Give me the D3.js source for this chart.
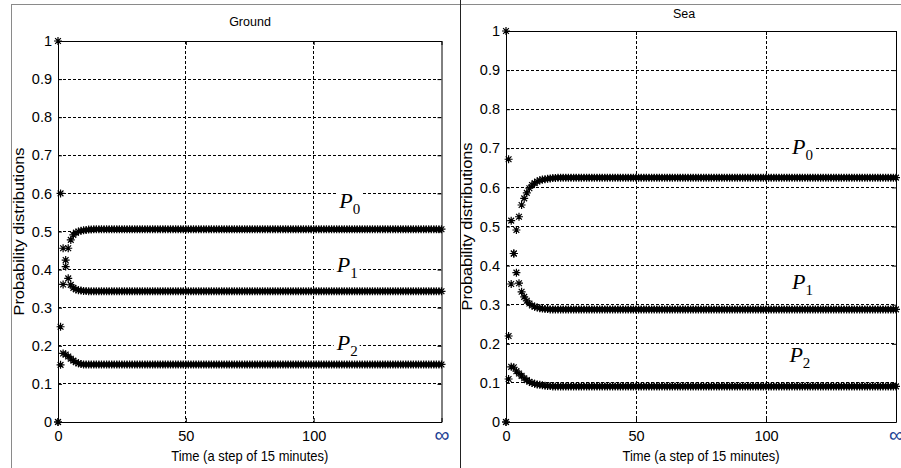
<!DOCTYPE html>
<html>
<head>
<meta charset="utf-8">
<script src="https://d3js.org/d3.v7.min.js"></script>
<style>
  body { margin: 0; background: #fff; overflow: hidden; }
  svg text { font-family: "Liberation Sans", Arial, sans-serif; }
  .grid line { stroke: #000; stroke-dasharray: 3,2; shape-rendering: crispEdges; }
  .plabel { font-family: "Liberation Serif", serif; font-style: italic; }
</style>
</head>
<body>
<svg id="chart" width="901" height="468"></svg>
<script>
// tick values / labels
var yTicks = [0, 0.1, 0.2, 0.3, 0.4, 0.5, 0.6, 0.7, 0.8, 0.9, 1];
var yTickLabels = ["0", "0.1", "0.2", "0.3", "0.4", "0.5", "0.6", "0.7", "0.8", "0.9", "1"];
var xTicks = [0, 50, 100, 150];
var xTickLabels = ["0", "50", "100", "\u221e"];
var xGrid = [50, 100];
var seriesNames = ["P0", "P1", "P2"];

// Ground: one value per 15 minute step, t = 0..150
var groundP0 = [1, 0.6, 0.456, 0.408, 0.456, 0.478, 0.491, 0.497, 0.5, 0.502, 0.503, 0.504, 0.505, 0.505, 0.506,
  0.506, 0.506, 0.506, 0.506, 0.506, 0.506, 0.506, 0.506, 0.506, 0.506, 0.506, 0.506, 0.506, 0.506, 0.506, 0.506, 0.506,
  0.506, 0.506, 0.506, 0.506, 0.506, 0.506, 0.506, 0.506, 0.506, 0.506, 0.506, 0.506, 0.506, 0.506, 0.506, 0.506, 0.506,
  0.506, 0.506, 0.506, 0.506, 0.506, 0.506, 0.506, 0.506, 0.506, 0.506, 0.506, 0.506, 0.506, 0.506, 0.506, 0.506, 0.506,
  0.506, 0.506, 0.506, 0.506, 0.506, 0.506, 0.506, 0.506, 0.506, 0.506, 0.506, 0.506, 0.506, 0.506, 0.506, 0.506, 0.506,
  0.506, 0.506, 0.506, 0.506, 0.506, 0.506, 0.506, 0.506, 0.506, 0.506, 0.506, 0.506, 0.506, 0.506, 0.506, 0.506, 0.506,
  0.506, 0.506, 0.506, 0.506, 0.506, 0.506, 0.506, 0.506, 0.506, 0.506, 0.506, 0.506, 0.506, 0.506, 0.506, 0.506, 0.506,
  0.506, 0.506, 0.506, 0.506, 0.506, 0.506, 0.506, 0.506, 0.506, 0.506, 0.506, 0.506, 0.506, 0.506, 0.506, 0.506, 0.506,
  0.506, 0.506, 0.506, 0.506, 0.506, 0.506, 0.506, 0.506, 0.506, 0.506, 0.506, 0.506, 0.506, 0.506, 0.506, 0.506, 0.506];
var groundP1 = [0, 0.25, 0.361, 0.425, 0.377, 0.36, 0.352, 0.348, 0.346, 0.345, 0.344, 0.344, 0.343, 0.343, 0.343,
  0.343, 0.343, 0.343, 0.343, 0.343, 0.343, 0.343, 0.343, 0.343, 0.343, 0.343, 0.343, 0.343, 0.343, 0.343, 0.343, 0.343,
  0.343, 0.343, 0.343, 0.343, 0.343, 0.343, 0.343, 0.343, 0.343, 0.343, 0.343, 0.343, 0.343, 0.343, 0.343, 0.343, 0.343,
  0.343, 0.343, 0.343, 0.343, 0.343, 0.343, 0.343, 0.343, 0.343, 0.343, 0.343, 0.343, 0.343, 0.343, 0.343, 0.343, 0.343,
  0.343, 0.343, 0.343, 0.343, 0.343, 0.343, 0.343, 0.343, 0.343, 0.343, 0.343, 0.343, 0.343, 0.343, 0.343, 0.343, 0.343,
  0.343, 0.343, 0.343, 0.343, 0.343, 0.343, 0.343, 0.343, 0.343, 0.343, 0.343, 0.343, 0.343, 0.343, 0.343, 0.343, 0.343,
  0.343, 0.343, 0.343, 0.343, 0.343, 0.343, 0.343, 0.343, 0.343, 0.343, 0.343, 0.343, 0.343, 0.343, 0.343, 0.343, 0.343,
  0.343, 0.343, 0.343, 0.343, 0.343, 0.343, 0.343, 0.343, 0.343, 0.343, 0.343, 0.343, 0.343, 0.343, 0.343, 0.343, 0.343,
  0.343, 0.343, 0.343, 0.343, 0.343, 0.343, 0.343, 0.343, 0.343, 0.343, 0.343, 0.343, 0.343, 0.343, 0.343, 0.343, 0.343];
var groundP2 = [0, 0.15, 0.18, 0.177, 0.172, 0.166, 0.161, 0.157, 0.154, 0.152, 0.151, 0.151, 0.151, 0.151, 0.151,
  0.151, 0.151, 0.151, 0.151, 0.151, 0.151, 0.151, 0.151, 0.151, 0.151, 0.151, 0.151, 0.151, 0.151, 0.151, 0.151, 0.151,
  0.151, 0.151, 0.151, 0.151, 0.151, 0.151, 0.151, 0.151, 0.151, 0.151, 0.151, 0.151, 0.151, 0.151, 0.151, 0.151, 0.151,
  0.151, 0.151, 0.151, 0.151, 0.151, 0.151, 0.151, 0.151, 0.151, 0.151, 0.151, 0.151, 0.151, 0.151, 0.151, 0.151, 0.151,
  0.151, 0.151, 0.151, 0.151, 0.151, 0.151, 0.151, 0.151, 0.151, 0.151, 0.151, 0.151, 0.151, 0.151, 0.151, 0.151, 0.151,
  0.151, 0.151, 0.151, 0.151, 0.151, 0.151, 0.151, 0.151, 0.151, 0.151, 0.151, 0.151, 0.151, 0.151, 0.151, 0.151, 0.151,
  0.151, 0.151, 0.151, 0.151, 0.151, 0.151, 0.151, 0.151, 0.151, 0.151, 0.151, 0.151, 0.151, 0.151, 0.151, 0.151, 0.151,
  0.151, 0.151, 0.151, 0.151, 0.151, 0.151, 0.151, 0.151, 0.151, 0.151, 0.151, 0.151, 0.151, 0.151, 0.151, 0.151, 0.151,
  0.151, 0.151, 0.151, 0.151, 0.151, 0.151, 0.151, 0.151, 0.151, 0.151, 0.151, 0.151, 0.151, 0.151, 0.151, 0.151, 0.151];

// Sea
var seaP0 = [1, 0.672, 0.515, 0.431, 0.491, 0.525, 0.555, 0.572, 0.586, 0.598, 0.606, 0.611, 0.615, 0.618, 0.62,
  0.621, 0.622, 0.623, 0.624, 0.624, 0.625, 0.625, 0.625, 0.625, 0.625,
  0.625, 0.625, 0.625, 0.625, 0.625, 0.625, 0.625, 0.625, 0.625, 0.625, 0.625, 0.625, 0.625, 0.625,
  0.625, 0.625, 0.625, 0.625, 0.625, 0.625, 0.625, 0.625, 0.625, 0.625, 0.625, 0.625, 0.625, 0.625,
  0.625, 0.625, 0.625, 0.625, 0.625, 0.625, 0.625, 0.625, 0.625, 0.625, 0.625, 0.625, 0.625, 0.625,
  0.625, 0.625, 0.625, 0.625, 0.625, 0.625, 0.625, 0.625, 0.625, 0.625, 0.625, 0.625, 0.625, 0.625,
  0.625, 0.625, 0.625, 0.625, 0.625, 0.625, 0.625, 0.625, 0.625, 0.625, 0.625, 0.625, 0.625, 0.625,
  0.625, 0.625, 0.625, 0.625, 0.625, 0.625, 0.625, 0.625, 0.625, 0.625, 0.625, 0.625, 0.625, 0.625,
  0.625, 0.625, 0.625, 0.625, 0.625, 0.625, 0.625, 0.625, 0.625, 0.625, 0.625, 0.625, 0.625, 0.625,
  0.625, 0.625, 0.625, 0.625, 0.625, 0.625, 0.625, 0.625, 0.625, 0.625, 0.625, 0.625, 0.625, 0.625,
  0.625, 0.625, 0.625, 0.625, 0.625, 0.625, 0.625, 0.625, 0.625, 0.625, 0.625, 0.625, 0.625, 0.625];
var seaP1 = [0, 0.22, 0.353, 0.431, 0.382, 0.355, 0.333, 0.32, 0.31, 0.303, 0.298, 0.295, 0.293, 0.291, 0.29,
  0.289, 0.289, 0.288, 0.288, 0.288, 0.288, 0.288, 0.288, 0.288, 0.288,
  0.288, 0.288, 0.288, 0.288, 0.288, 0.288, 0.288, 0.288, 0.288, 0.288, 0.288, 0.288, 0.288, 0.288,
  0.288, 0.288, 0.288, 0.288, 0.288, 0.288, 0.288, 0.288, 0.288, 0.288, 0.288, 0.288, 0.288, 0.288,
  0.288, 0.288, 0.288, 0.288, 0.288, 0.288, 0.288, 0.288, 0.288, 0.288, 0.288, 0.288, 0.288, 0.288,
  0.288, 0.288, 0.288, 0.288, 0.288, 0.288, 0.288, 0.288, 0.288, 0.288, 0.288, 0.288, 0.288, 0.288,
  0.288, 0.288, 0.288, 0.288, 0.288, 0.288, 0.288, 0.288, 0.288, 0.288, 0.288, 0.288, 0.288, 0.288,
  0.288, 0.288, 0.288, 0.288, 0.288, 0.288, 0.288, 0.288, 0.288, 0.288, 0.288, 0.288, 0.288, 0.288,
  0.288, 0.288, 0.288, 0.288, 0.288, 0.288, 0.288, 0.288, 0.288, 0.288, 0.288, 0.288, 0.288, 0.288,
  0.288, 0.288, 0.288, 0.288, 0.288, 0.288, 0.288, 0.288, 0.288, 0.288, 0.288, 0.288, 0.288, 0.288,
  0.288, 0.288, 0.288, 0.288, 0.288, 0.288, 0.288, 0.288, 0.288, 0.288, 0.288, 0.288, 0.288, 0.288];
var seaP2 = [0, 0.11, 0.141, 0.14, 0.13, 0.124, 0.118, 0.112, 0.107, 0.103, 0.1, 0.098, 0.096, 0.095, 0.094,
  0.093, 0.092, 0.092, 0.091, 0.091, 0.091, 0.091, 0.091, 0.091, 0.091,
  0.091, 0.091, 0.091, 0.091, 0.091, 0.091, 0.091, 0.091, 0.091, 0.091, 0.091, 0.091, 0.091, 0.091,
  0.091, 0.091, 0.091, 0.091, 0.091, 0.091, 0.091, 0.091, 0.091, 0.091, 0.091, 0.091, 0.091, 0.091,
  0.091, 0.091, 0.091, 0.091, 0.091, 0.091, 0.091, 0.091, 0.091, 0.091, 0.091, 0.091, 0.091, 0.091,
  0.091, 0.091, 0.091, 0.091, 0.091, 0.091, 0.091, 0.091, 0.091, 0.091, 0.091, 0.091, 0.091, 0.091,
  0.091, 0.091, 0.091, 0.091, 0.091, 0.091, 0.091, 0.091, 0.091, 0.091, 0.091, 0.091, 0.091, 0.091,
  0.091, 0.091, 0.091, 0.091, 0.091, 0.091, 0.091, 0.091, 0.091, 0.091, 0.091, 0.091, 0.091, 0.091,
  0.091, 0.091, 0.091, 0.091, 0.091, 0.091, 0.091, 0.091, 0.091, 0.091, 0.091, 0.091, 0.091, 0.091,
  0.091, 0.091, 0.091, 0.091, 0.091, 0.091, 0.091, 0.091, 0.091, 0.091, 0.091, 0.091, 0.091, 0.091,
  0.091, 0.091, 0.091, 0.091, 0.091, 0.091, 0.091, 0.091, 0.091, 0.091, 0.091, 0.091, 0.091, 0.091];

var svg = d3.select("#chart");

// outer frame
svg.append("line").attr("x1", 11).attr("x2", 901).attr("y1", 4.5).attr("y2", 4.5).attr("stroke", "#8a8a8a");
svg.append("line").attr("x1", 11.5).attr("x2", 11.5).attr("y1", 4).attr("y2", 468).attr("stroke", "#8a8a8a");
svg.append("line").attr("x1", 460.5).attr("x2", 460.5).attr("y1", 0).attr("y2", 468).attr("stroke", "#222");

var panels = [
  { title: "Ground", left: 58, right: 441.5, top: 41, bottom: 422, titleX: 250, titleY: 26, ylabX: 24,
    series: [groundP0, groundP1, groundP2],
    labelPos: [[110, 0.562], [109, 0.394], [109, 0.189]] },
  { title: "Sea", left: 506, right: 896, top: 31, bottom: 422, titleX: 684, titleY: 18, ylabX: 472,
    series: [seaP0, seaP1, seaP2],
    labelPos: [[110, 0.685], [110, 0.34], [109, 0.153]] }
];

panels.forEach(drawPanel);

function asterisk(r) {
  var a = r * 0.72;
  return `M${-r},0H${r}M0,${-r}V${r}M${-a},${-a}L${a},${a}M${-a},${a}L${a},${-a}`;
}

function drawPanel(p) {
  var x = d3.scaleLinear().domain([0, 150]).range([p.left, p.right]);
  var y = d3.scaleLinear().domain([0, 1]).range([p.bottom, p.top]);
  var g = svg.append("g");

  // dashed grid
  var grid = g.append("g").attr("class", "grid");
  grid.selectAll(".hg").data(yTicks.filter(d => d > 0 && d < 1)).join("line")
    .attr("x1", p.left).attr("x2", p.right)
    .attr("y1", d => y(d)).attr("y2", d => y(d));
  grid.selectAll(".vg").data(xGrid).join("line")
    .attr("y1", p.top).attr("y2", p.bottom)
    .attr("x1", d => x(d)).attr("x2", d => x(d));

  // P labels on white boxes
  var lab = g.append("g").selectAll("g").data(seriesNames).join("g")
    .attr("transform", (d, i) => `translate(${x(p.labelPos[i][0])},${y(p.labelPos[i][1])})`);
  lab.append("rect").attr("x", -3).attr("y", -18).attr("width", 26).attr("height", 28).attr("fill", "#fff");
  var t = lab.append("text").attr("class", "plabel").attr("font-size", 22);
  t.append("tspan").text(d => d[0]);
  t.append("tspan").attr("font-size", 15).attr("dy", 6).attr("font-style", "normal").text(d => d.slice(1));

  // asterisk markers
  p.series.forEach(vals => {
    g.append("g").selectAll("path").data(vals).join("path")
      .attr("transform", (d, i) => `translate(${x(i)},${y(d)})`)
      .attr("d", asterisk(4))
      .attr("stroke", "#000").attr("stroke-width", 1.2).attr("fill", "none");
  });

  // axes: ticks point inward, box on all four sides
  var font = (sel) => sel.attr("font-family", "Liberation Sans Narrow, Liberation Sans, Arial, sans-serif").attr("font-size", 14.5);
  g.append("g").attr("transform", `translate(${p.left},0)`)
    .call(d3.axisLeft(y).tickValues(yTicks).tickFormat((d, i) => yTickLabels[i])
      .tickSize(-4).tickSizeOuter(0).tickPadding(6)).call(font);
  g.append("g").attr("transform", `translate(${p.right},0)`)
    .call(d3.axisRight(y).tickValues(yTicks).tickFormat("").tickSize(-4).tickSizeOuter(0));
  g.append("g").attr("transform", `translate(0,${p.top})`)
    .call(d3.axisTop(x).tickValues(xTicks).tickFormat("").tickSize(-4).tickSizeOuter(0));
  var xa = g.append("g").attr("transform", `translate(0,${p.bottom})`)
    .call(d3.axisBottom(x).tickValues(xTicks).tickFormat((d, i) => xTickLabels[i])
      .tickSize(-4).tickSizeOuter(0).tickPadding(9)).call(font);
  xa.selectAll(".tick text").filter(d => d === 150)
    .attr("fill", "#1c3f94").attr("font-family", "DejaVu Sans, sans-serif").attr("font-size", 21)
    .attr("dy", null).attr("y", 20);
  g.selectAll(".domain").attr("stroke", "#000");

  // titles
  g.append("text").attr("x", p.titleX).attr("y", p.titleY).attr("text-anchor", "middle")
    .attr("font-size", 12.5).text(p.title);
  g.append("text").attr("x", (p.left + p.right) / 2).attr("y", 461).attr("text-anchor", "middle")
    .attr("font-family", "Liberation Sans Narrow, Liberation Sans, Arial, sans-serif")
    .attr("font-size", 15).attr("textLength", 157).attr("lengthAdjust", "spacingAndGlyphs")
    .text("Time (a step of 15 minutes)");
  g.append("text").attr("transform", `translate(${p.ylabX},${(p.top + p.bottom) / 2}) rotate(-90)`)
    .attr("text-anchor", "middle").attr("font-size", 14)
    .attr("textLength", 168).attr("lengthAdjust", "spacingAndGlyphs")
    .text("Probability distributions");
}
</script>
</body>
</html>
